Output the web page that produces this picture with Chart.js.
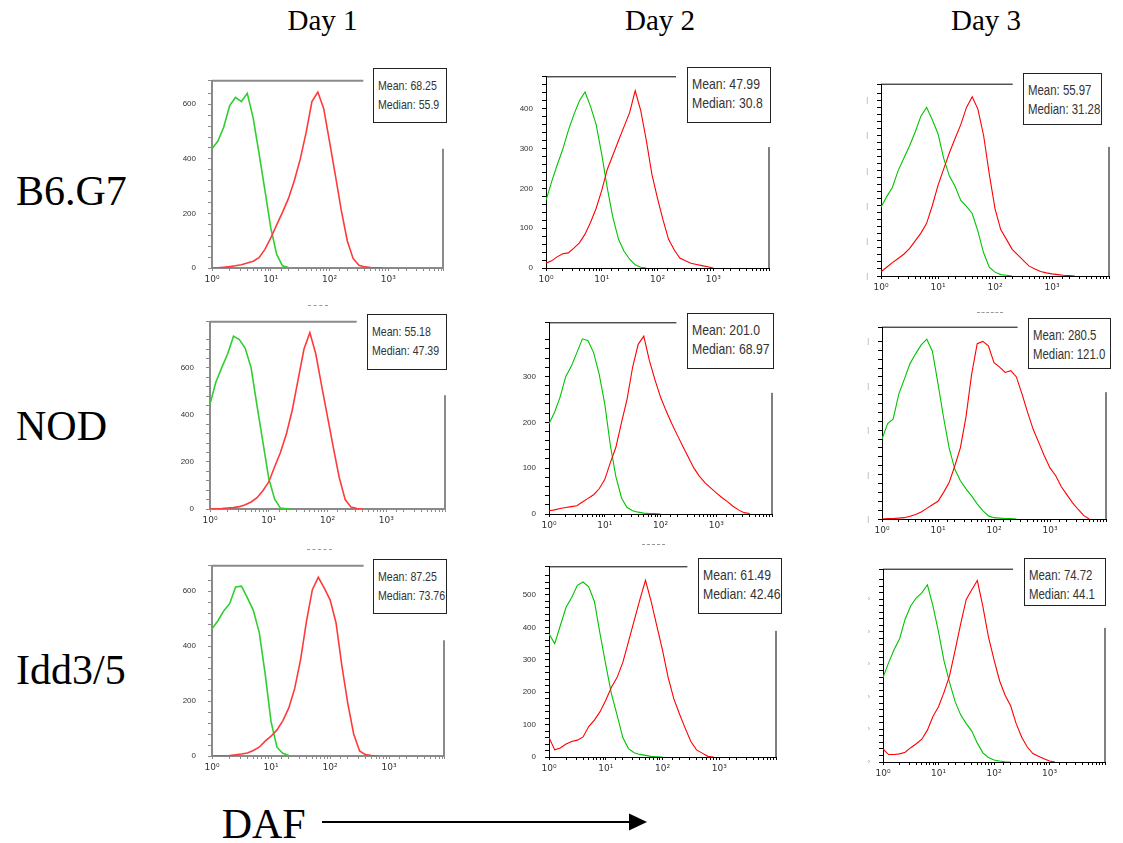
<!DOCTYPE html>
<html><head><meta charset="utf-8">
<script src="https://cdn.jsdelivr.net/npm/chart.js@4.4.1/dist/chart.umd.min.js"></script>
<style>
html,body{margin:0;padding:0;background:#fff;}
#fig{position:relative;width:1123px;height:843px;overflow:hidden;background:#fff;}
.serif{position:absolute;font-family:"Liberation Serif","Times New Roman",serif;color:#000;white-space:nowrap;line-height:1;}
canvas{position:absolute;}
.stat{position:absolute;border:1px solid #222;background:#fff;box-sizing:border-box;font-family:"Liberation Sans",Arial,sans-serif;color:#333;overflow:hidden;}
.stat span{display:block;transform-origin:0 0;white-space:nowrap;line-height:19px;}
.dash{position:absolute;border-top:1px dashed #999;height:0;}
</style></head>
<body><div id="fig"></div>
<script>
// ---------- DATA ----------
const DAYS = ['Day 1', 'Day 2', 'Day 3'];
const STRAINS = ['B6.G7', 'NOD', 'Idd3/5'];
const AXIS_LABEL = 'DAF';
const X_TICK_LABELS = ['10\u2070', '10\u00B9', '10\u00B2', '10\u00B3'];

// DAF fluorescence bins (0.1-decade steps)
const DAF_BINS = [1, 1.26, 1.58, 2, 2.51, 3.16, 3.98, 5.01, 6.31, 7.94,
  10, 12.6, 15.8, 20, 25.1, 31.6, 39.8, 50.1, 63.1, 79.4,
  100, 126, 158, 200, 251, 316, 398, 501, 631, 794,
  1000, 1259, 1585, 1995, 2512, 3162, 3981, 5012, 6310, 7943];

// counts per bin (green = control, red = DAF stained)
const B6G7_D1_GREEN = [437,465,516,595,625,610,640,550,420,285,147,50,8,2,0];
const B6G7_D1_RED   = [0,1,3,5,8,12,18,25,38,68,110,158,204,255,320,398,495,610,645,585,462,338,212,100,35,10,4,2,1,0];
const B6G7_D2_GREEN = [170,216,258,298,345,385,420,442,405,360,285,200,128,72,42,22,8,2,0];
const B6G7_D2_RED   = [12,18,28,36,38,50,63,85,115,150,195,248,283,320,355,390,445,395,320,235,175,120,72,45,25,18,12,9,6,3,0];
const B6G7_D3_GREEN = [196,226,252,300,335,370,410,455,480,445,405,335,285,255,215,198,178,128,66,25,11,4,2,0];
const B6G7_D3_RED   = [12,25,38,50,62,78,100,122,150,200,258,305,350,392,431,480,510,475,400,290,192,132,105,76,60,44,28,20,13,9,6,4,2,1,0];
const NOD_D1_GREEN  = [446,540,600,660,735,720,683,600,440,285,130,42,4,1,0];
const NOD_D1_RED    = [0,1,2,4,6,10,18,30,48,78,115,180,240,320,420,550,680,750,660,525,393,260,135,40,8,2,0];
const NOD_D2_GREEN  = [197,222,255,300,322,352,382,378,352,305,240,150,82,35,14,7,4,2,1,1,0];
const NOD_D2_RED    = [7,9,12,14,16,18,26,34,42,55,75,112,145,200,250,320,370,388,335,293,255,225,198,172,148,124,100,82,68,57,46,36,27,17,9,3,1];
const NOD_D3_GREEN  = [180,215,225,282,315,350,372,392,405,378,305,228,160,112,86,68,52,34,19,7,3,2,1,1,0];
const NOD_D3_RED    = [0,1,1,2,3,6,10,16,24,32,40,60,82,120,160,230,325,395,400,390,352,342,330,334,320,282,240,202,172,142,115,98,73,55,37,22,8,0];
const IDD_D1_GREEN  = [463,492,528,555,615,618,575,530,450,300,125,32,10,2,0,0,0,0,0,0,0,0,0,0,0,0,0,0,0,0,0,0,0,0,0,0,0,0,0,0];
const IDD_D1_RED    = [0,0,1,2,4,7,11,20,32,54,72,95,128,175,245,350,490,605,650,612,568,485,330,190,80,18,5,2,0];
const IDD_D2_GREEN  = [380,350,405,462,492,530,540,525,480,380,285,195,130,60,26,13,8,5,2,1,0];
const IDD_D2_RED    = [60,22,28,40,48,52,62,94,114,140,175,215,245,292,355,420,485,545,480,405,330,245,180,132,89,48,22,12,2,0];
const IDD_D3_GREEN  = [260,305,345,380,440,480,505,520,545,480,400,310,245,185,145,118,95,58,28,14,6,3,1,0];
const IDD_D3_RED    = [40,23,23,25,30,44,56,70,98,140,170,215,265,345,425,500,530,558,478,385,315,250,206,172,118,76,46,26,18,10,3,0];

const STAT_MEAN   = [['68.25','47.99','55.97'], ['55.18','201.0','280.5'], ['87.25','61.49','74.72']];
const STAT_MEDIAN = [['55.9','30.8','31.28'], ['47.39','68.97','121.0'], ['73.76','42.46','44.1']];

const Y_MAX   = [[686,480,546],[796,417,432],[692,587,593]];
const Y_MAJOR = [200, 100, 100];

const SERIES = [
  [[B6G7_D1_GREEN,B6G7_D1_RED],[B6G7_D2_GREEN,B6G7_D2_RED],[B6G7_D3_GREEN,B6G7_D3_RED]],
  [[NOD_D1_GREEN,NOD_D1_RED],[NOD_D2_GREEN,NOD_D2_RED],[NOD_D3_GREEN,NOD_D3_RED]],
  [[IDD_D1_GREEN,IDD_D1_RED],[IDD_D2_GREEN,IDD_D2_RED],[IDD_D3_GREEN,IDD_D3_RED]]
];

// ---------- LAYOUT (pixel geometry, styling) ----------
const GEOM = [
  [ {L:211.7,T:67,R:443,B:268,topEnd:363,rightStart:135,xmax:8500, box:[373,68,447,123]},
    {L:546,T:65.7,R:769.3,B:267.3,topEnd:676,rightStart:136,xmax:10000, box:[686.7,67.3,770.7,123.3]},
    {L:881,T:74,R:1109.3,B:276,topEnd:1012.7,rightStart:136.7,xmax:10000, box:[1022.7,72.7,1102,125]} ],
  [ {L:210,T:308.3,R:445,B:509.3,topEnd:356.7,rightStart:381.7,xmax:10000, box:[367.3,314,446.7,370]},
    {L:549.3,T:311.7,R:772.3,B:513.3,topEnd:676.7,rightStart:381.7,xmax:10000, box:[687.3,313.3,774,369]},
    {L:881.7,T:316.7,R:1106,B:518.3,topEnd:1017.3,rightStart:381.7,xmax:10000, box:[1028.3,317.7,1110.7,369]} ],
  [ {L:211.7,T:552.3,R:443.3,B:756.7,topEnd:363.3,rightStart:626.7,xmax:8500, box:[372.7,559.3,446.7,614]},
    {L:549.3,T:556,R:776,B:757.3,topEnd:687.7,rightStart:620,xmax:10000, box:[698.3,558.3,782,614]},
    {L:882.7,T:559,R:1105,B:762.3,topEnd:1012.7,rightStart:617.7,xmax:10000, box:[1024.3,557.7,1106,605.7]} ]
];
const DAY_STYLE = [
  {axis:'#8a8a8a', axisW:2, red:'#ff3a3a', green:'#2fcf2f', lw:1.6, statFont:13, statPad:7, yPad:12},
  {axis:'#000', axisW:1, red:'#ff0000', green:'#00c400', lw:1.1, statFont:15, statPad:6, yPad:9},
  {axis:'#000', axisW:1, red:'#ff0000', green:'#00c400', lw:1.1, statFont:14, statPad:7, yPad:9}
];
const YW = 40, XH = 20, PADT = 3, PADR = 3;

const fig = document.getElementById('fig');
function addText(cls, txt, css) {
  const d = document.createElement('div');
  d.className = cls; d.textContent = txt;
  Object.assign(d.style, css);
  fig.appendChild(d);
  return d;
}
const DAY_CX = [322.5, 660, 986];
DAYS.forEach((t, i) => addText('serif', t, {left: DAY_CX[i] + 'px', top: (30 - 0.8375*29) + 'px', fontSize: '29px', transform: 'translateX(-50%)'}));
const ROW_BASE = [205, 440, 684];
STRAINS.forEach((t, i) => addText('serif', t, {left: '16px', top: (ROW_BASE[i] - 0.8375*42) + 'px', fontSize: '42px'}));
addText('serif', AXIS_LABEL, {left: '221.7px', top: (838 - 0.8375*42) + 'px', fontSize: '42px'});

// arrow
const svgNS = 'http://www.w3.org/2000/svg';
const svg = document.createElementNS(svgNS, 'svg');
svg.setAttribute('width', '1123'); svg.setAttribute('height', '843');
svg.style.position = 'absolute'; svg.style.left = '0'; svg.style.top = '0';
svg.innerHTML = '<line x1="322" y1="822" x2="634" y2="822" stroke="#000" stroke-width="2"/>' +
  '<polygon points="629,813.5 647,822 629,830.5" fill="#000"/>';
fig.appendChild(svg);

// little dash marks
[[308,305,20],[307,549,25],[642,544,23],[977,312,26]].forEach(([x,y,w]) => {
  const d = document.createElement('div'); d.className = 'dash';
  Object.assign(d.style, {left: x+'px', top: y+'px', width: w+'px'});
  fig.appendChild(d);
});

function pts(arr) {
  const out = [];
  for (let i = 0; i < DAF_BINS.length; i++) if (arr[i] !== undefined) out.push({x: DAF_BINS[i], y: arr[i]});
  return out;
}

for (let r = 0; r < 3; r++) {
  for (let c = 0; c < 3; c++) {
    const g = GEOM[r][c], st = DAY_STYLE[c];
    const major = Y_MAJOR[c];
    const cw = Math.round(g.R - g.L + YW + PADR), ch = Math.round(g.B - g.T + PADT + XH);
    const cv = document.createElement('canvas');
    cv.width = cw; cv.height = ch;
    cv.style.left = (g.L - YW) + 'px'; cv.style.top = (g.T - PADT) + 'px';
    cv.style.width = cw + 'px'; cv.style.height = ch + 'px';
    fig.appendChild(cv);

    const yGlyph = c === 2 ? (r === 2 ? '\u203A' : '|') : null;
    const framePlugin = {
      id: 'frame' + r + c,
      afterDraw(chart) {
        const a = chart.chartArea, ctx = chart.ctx;
        ctx.save();
        ctx.strokeStyle = st.axis; ctx.lineWidth = st.axisW;
        ctx.beginPath();
        ctx.moveTo(a.left, a.top); ctx.lineTo(a.left + (g.topEnd - g.L), a.top);
        ctx.moveTo(a.right, a.top + (g.rightStart - g.T)); ctx.lineTo(a.right, a.bottom);
        ctx.stroke();
        ctx.restore();
      }
    };

    new Chart(cv, {
      type: 'line',
      data: {datasets: [
        {data: pts(SERIES[r][c][1]), borderColor: st.red, borderWidth: st.lw, pointRadius: 0, tension: 0, fill: false},
        {data: pts(SERIES[r][c][0]), borderColor: st.green, borderWidth: st.lw, pointRadius: 0, tension: 0, fill: false}
      ]},
      options: {
        responsive: false, animation: false, events: [],
        layout: {padding: {left: 0, top: PADT, right: PADR, bottom: 0}},
        plugins: {legend: {display: false}, tooltip: {enabled: false}},
        scales: {
          x: {
            type: 'logarithmic', min: 1, max: g.xmax,
            afterFit: s => { s.height = XH; },
            border: {display: true, color: st.axis, width: st.axisW},
            grid: {display: true, drawOnChartArea: false, drawTicks: true, tickLength: 3, color: st.axis},
            ticks: {
              autoSkip: false, maxRotation: 0, minRotation: 0, padding: 3,
              font: {size: 9, family: 'DejaVu Sans'}, color: '#333',
              callback: v => {
                const e = Math.log10(v), re = Math.round(e);
                return (Math.abs(e - re) < 1e-9 && re >= 0 && re < X_TICK_LABELS.length) ? X_TICK_LABELS[re] : '';
              }
            }
          },
          y: {
            type: 'linear', min: 0, max: Y_MAX[r][c],
            afterFit: s => { s.width = YW; },
            border: {display: true, color: st.axis, width: st.axisW},
            grid: {display: true, drawOnChartArea: false, drawTicks: true, tickLength: 4, color: st.axis},
            ticks: {
              stepSize: major / 5, autoSkip: false, padding: st.yPad,
              font: {size: yGlyph ? 7 : 8, family: 'Liberation Sans'}, color: yGlyph ? '#999' : '#333',
              callback: v => (Math.abs(v / major - Math.round(v / major)) < 1e-6) ? (yGlyph || String(v)) : ''
            }
          }
        }
      },
      plugins: [framePlugin]
    });

    // stats box
    const [x1, y1, x2, y2] = g.box;
    const box = document.createElement('div'); box.className = 'stat';
    Object.assign(box.style, {left: x1 + 'px', top: y1 + 'px', width: (x2 - x1) + 'px', height: (y2 - y1) + 'px',
      paddingTop: st.statPad + 'px', paddingLeft: '4px', fontSize: st.statFont + 'px'});
    ['Mean: ' + STAT_MEAN[r][c], 'Median: ' + STAT_MEDIAN[r][c]].forEach(t => {
      const s = document.createElement('span'); s.textContent = t; s.style.transform = 'scaleX(0.815)';
      box.appendChild(s);
    });
    fig.appendChild(box);
  }
}
</script></body></html>
